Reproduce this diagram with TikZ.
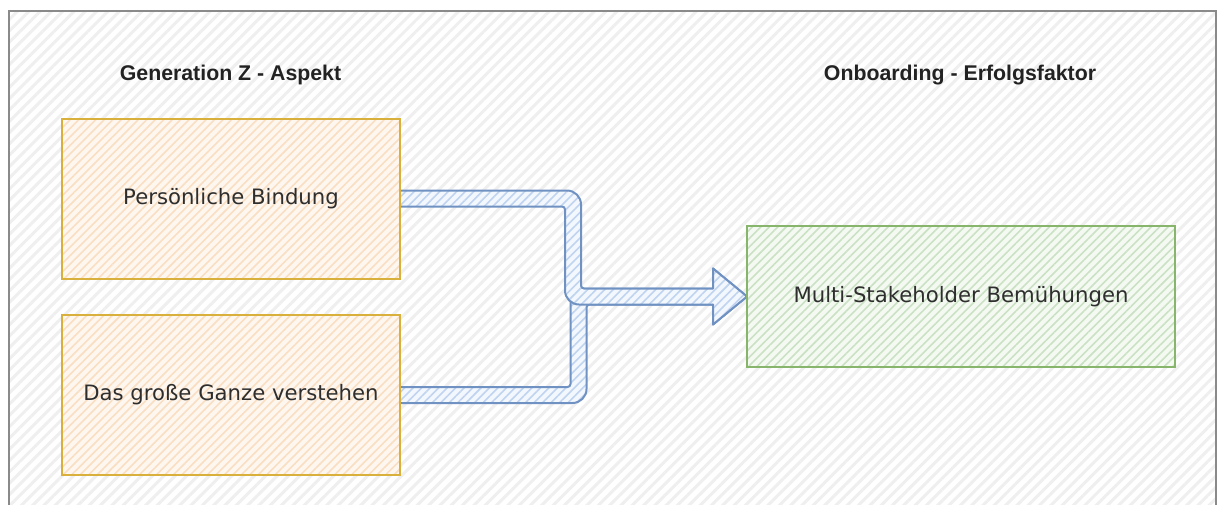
\documentclass[tikz,border=0pt]{standalone}
\usepackage{fontspec}
\setmainfont{DejaVu Sans}
\newfontfamily\headfont{Liberation Sans}
\usetikzlibrary{patterns.meta,calc}

\definecolor{frameline}{HTML}{8A8A8A}
\definecolor{bgstripe}{HTML}{EFEFEF}
\definecolor{orline}{HTML}{D9B03C}
\definecolor{orbase}{HTML}{FEF7EF}
\definecolor{orstripe}{HTML}{F9DEC2}
\definecolor{grline}{HTML}{86B56B}
\definecolor{grbase}{HTML}{F4F9F2}
\definecolor{grstripe}{HTML}{CBE1C4}
\definecolor{blline}{HTML}{7092C2}
\definecolor{blbase}{HTML}{F3F7FE}
\definecolor{blstripe}{HTML}{C0D4EF}
\definecolor{txt}{HTML}{2E2E2E}
\definecolor{headtxt}{HTML}{222222}

\pgfdeclarelayer{backdrop}
\pgfdeclarelayer{connectors}
\pgfsetlayers{backdrop,connectors,main}

\tikzset{
  hatched/.style 2 args={preaction={fill=#1},
    pattern={Lines[angle=45,distance=6pt,line width=1.6pt]}, pattern color=#2},
  aspect/.style={draw=orline, line width=2pt, hatched={orbase}{orstripe},
    minimum width=338pt, minimum height=160pt, inner sep=0pt, outer sep=0pt,
    text=txt, font=\fontsize{21.2}{25}\selectfont},
  factor/.style={draw=grline, line width=2pt, hatched={grbase}{grstripe},
    minimum width=428pt, minimum height=141pt, inner sep=0pt, outer sep=0pt,
    text=txt, font=\fontsize{21.2}{25}\selectfont},
  heading/.style={text=headtxt, inner sep=0pt,
    font=\headfont\bfseries\fontsize{21.3}{25}\selectfont},
  shaft/.style={draw=blline, line width=2pt, line join=round,
    hatched={blbase}{blstripe}},
  headfill/.style={hatched={blbase}{blstripe}},
  headline/.style={draw=blline, line width=2pt, line join=round, line cap=round},
}

\begin{document}
\begin{tikzpicture}[x=1pt,y=-1pt]
\useasboundingbox (0,0) rectangle (1217,504);
\clip (0,0) rectangle (1217,504);

% column headings
\node[heading] (h1) at (230.5,75) {Generation Z - Aspekt};
\node[heading] (h2) at (960,75) {Onboarding - Erfolgsfaktor};

% aspects and success factor
\node[aspect] (p1) at (231,198.5) {Persönliche Bindung};
\node[aspect] (p2) at (231,395) {Das große Ganze verstehen};
\node[factor] (g) at (961,296.5) {Multi-Stakeholder Bemühungen};

% hatched sheet with its frame
\begin{pgfonlayer}{backdrop}
  \fill[white] (0,0) rectangle (1217,504);
  \fill[pattern={Lines[angle=45,distance=8pt,line width=3pt]}, pattern color=bgstripe]
    (9,11) rectangle (1216,530);
  \draw[frameline, line width=2pt] (9,530) -- (9,11) -- (1216,11) -- (1216,530);
\end{pgfonlayer}

% wide block arrows merging into the success factor
\begin{pgfonlayer}{connectors}
  \coordinate (k2) at (578.5,0);
  \coordinate (k1) at (573,0);

  % lower aspect: right, up, right
  \path[shaft] ($(p2.east)+(-15,-8)$)
    [rounded corners=3pt] -- ($(k2 |- p2.east)+(-8,-8)$)
    [rounded corners=14pt] -- ($(k2 |- g.west)+(-8,-8)$)
    [sharp corners] -- ($(g.west)+(-22,-8)$) -- ($(g.west)+(-22,8)$)
    [rounded corners=3pt] -- ($(k2 |- g.west)+(8,8)$)
    [rounded corners=14pt] -- ($(k2 |- p2.east)+(8,8)$)
    [sharp corners] -- ($(p2.east)+(-15,8)$) -- cycle;
  \path[headfill] ($(g.west)+(-34,-28)$) -- (g.west) -- ($(g.west)+(-34,28)$) -- cycle;
  \draw[headline] ($(g.west)+(-34,-8)$) -- ($(g.west)+(-34,-28)$) -- (g.west)
    -- ($(g.west)+(-34,28)$) -- ($(g.west)+(-34,8)$);

  % upper aspect: right, down, right
  \path[shaft] ($(p1.east)+(-15,-8)$)
    [rounded corners=14pt] -- ($(k1 |- p1.east)+(8,-8)$)
    [rounded corners=3pt] -- ($(k1 |- g.west)+(8,-8)$)
    [sharp corners] -- ($(g.west)+(-22,-8)$) -- ($(g.west)+(-22,8)$)
    [rounded corners=14pt] -- ($(k1 |- g.west)+(-8,8)$)
    [rounded corners=3pt] -- ($(k1 |- p1.east)+(-8,8)$)
    [sharp corners] -- ($(p1.east)+(-15,8)$) -- cycle;
  \path[headfill] ($(g.west)+(-34,-28)$) -- (g.west) -- ($(g.west)+(-34,28)$) -- cycle;
  \draw[headline] ($(g.west)+(-34,-8)$) -- ($(g.west)+(-34,-28)$) -- (g.west)
    -- ($(g.west)+(-34,28)$) -- ($(g.west)+(-34,8)$);
\end{pgfonlayer}
\end{tikzpicture}
\end{document}
